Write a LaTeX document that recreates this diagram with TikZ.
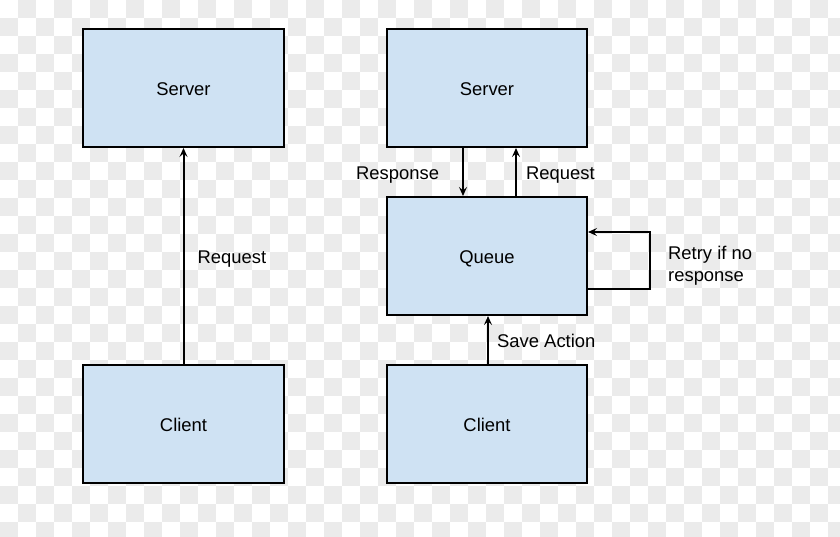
\documentclass[tikz,border=0pt]{standalone}
\usepackage{fontspec}
\setmainfont{Liberation Sans}
\usetikzlibrary{arrows.meta}
\definecolor{chk}{RGB}{235,235,235}
\definecolor{boxfill}{RGB}{207,226,243}
\tikzset{
  box/.style={draw=black, line width=2pt, fill=boxfill, minimum width=200pt, minimum height=118pt, inner sep=0pt, text height=15.6pt, text depth=0pt, font=\fontsize{18.4}{22}\selectfont},
  arr/.style={draw=black, line width=2pt, -{Stealth[length=9pt,width=8pt,inset=3.5pt]}},
  lbl/.style={inner sep=0pt, anchor=base west, font=\fontsize{18.4}{22}\selectfont},
}
\begin{document}
\begin{tikzpicture}[x=1pt,y=-1pt]
\useasboundingbox (0,0) rectangle (840,537);
\fill[white] (0,0) rectangle (840,537);
\foreach \i in {0,...,46}{
  \foreach \j in {0,...,29}{
    \pgfmathtruncatemacro\myparity{mod(\i+\j,2)}
    \ifnum\myparity=1 \fill[chk] (18*\i,18*\j) rectangle ++(18,18);\fi
  }
}
% left
\node[box, minimum width=201pt] (ls) at (183.5,88) {Server};
\node[box, minimum width=201pt] (lc) at (183.5,424) {Client};
\draw[arr] (lc.north) -- (ls.south);
\node[lbl] (lreq) at (197.5,263) {Request};
% right
\node[box] (rs) at (487,88) {Server};
\node[box] (q) at (487,256) {Queue};
\node[box] (rc) at (487,424) {Client};
\draw[arr] ([xshift=-24pt]rs.south) -- ([xshift=-24pt]q.north);
\draw[arr] ([xshift=29pt]q.north) -- ([xshift=29pt]rs.south);
\draw[arr] ([xshift=1pt]rc.north) -- ([xshift=1pt]q.south);
\draw[arr] ([yshift=-33pt]q.east) -- ++(62,0) |- ([yshift=24pt]q.east);
\node[lbl] (resp) at (356,179.5) {Response};
\node[lbl] (rreq) at (526,179.5) {Request};
\node[lbl] (save) at (497,347) {Save Action};
\node[lbl] (retry1) at (668,259.3) {Retry if no};
\node[lbl] (retry2) at (668,281) {response};
\end{tikzpicture}
\end{document}
